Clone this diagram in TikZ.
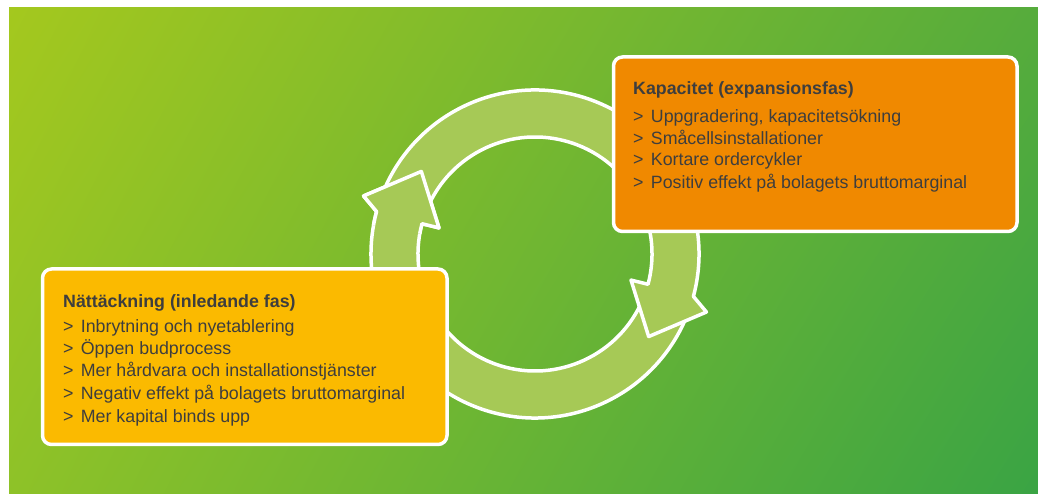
\documentclass[tikz,border=0pt]{standalone}
\usepackage{fontspec}
\setmainfont{Liberation Sans}
\usetikzlibrary{calc,shadings}

\definecolor{bgUL}{RGB}{164,200,30}
\definecolor{bgUR}{RGB}{86,172,60}
\definecolor{bgLL}{RGB}{142,194,40}
\definecolor{bgLR}{RGB}{58,164,68}
\definecolor{ringgreen}{RGB}{166,201,86}
\definecolor{kapOrange}{RGB}{240,137,0}
\definecolor{nattYellow}{RGB}{251,186,0}
\definecolor{textgray}{RGB}{62,62,62}

\newcommand{\listchev}{\makebox[17.7pt][l]{>}}

\begin{document}
\begin{tikzpicture}[x=1pt,y=1pt,
  ringarrow/.style={fill=ringgreen, draw=white, line width=3.5pt, line join=round},
  phasebox/.style={draw=white, line width=3.5pt, rounded corners=9pt, inner sep=0pt, anchor=south west},
  boxtitle/.style={anchor=base west, inner sep=0pt, text=textgray, font=\fontsize{17.8}{22}\selectfont\bfseries},
  boxitem/.style={anchor=base west, inner sep=0pt, text=textgray, font=\fontsize{17.8}{22}\selectfont}]

\useasboundingbox (0,0) rectangle (1038,494);

% gradient background panel
\shade[upper left=bgUL, upper right=bgUR, lower left=bgLL, lower right=bgLR]
  (9,0) rectangle (1038,486);

% circular cycle made of two curved arrows
\begin{scope}[shift={(535,240)}]
  % lower arrow: bottom arc, head pointing up on the left
  \path[ringarrow] (-20:164pt) arc[start angle=-20, end angle=-195, radius=164pt]
    -- (161.3:181pt) -- (144:140.5pt) -- (164.8:99.5pt) -- (165:117pt)
    arc[start angle=165, end angle=340, radius=117pt] -- cycle;
  % upper arrow: top arc, head pointing down on the right
  \path[ringarrow] (160:164pt) arc[start angle=160, end angle=-15, radius=164pt]
    -- (-18.7:181pt) -- (-36:140.5pt) -- (-15.2:99.5pt) -- (-15:117pt)
    arc[start angle=-15, end angle=160, radius=117pt] -- cycle;
  % left head again, on top of the upper arrow's tail
  \fill[ringgreen] (170:164pt) arc[start angle=170, end angle=165, radius=164pt]
    -- (161.3:181pt) -- (144:140.5pt) -- (164.8:99.5pt) -- (165:117pt)
    arc[start angle=165, end angle=170, radius=117pt] -- cycle;
  \draw[white, line width=3.5pt, line join=round] (170:164pt) arc[start angle=170, end angle=165, radius=164pt]
    -- (161.3:181pt) -- (144:140.5pt) -- (164.8:99.5pt) -- (165:117pt)
    arc[start angle=165, end angle=170, radius=117pt];
\end{scope}

% phase boxes
\node[phasebox, fill=kapOrange, minimum width=403.5pt, minimum height=174.5pt] (kap) at (611.75,260.75) {};
\node[phasebox, fill=nattYellow, minimum width=404.5pt, minimum height=175.5pt] (natt) at (40.75,47.75) {};

% expansion phase text
\node[boxtitle] (kapT) at (633,399) {Kapacitet (expansionsfas)};
\node[boxitem] (kap1) at (633,371.3) {\listchev Uppgradering, kapacitetsökning};
\node[boxitem] (kap2) at (633,349.7) {\listchev Småcellsinstallationer};
\node[boxitem] (kap3) at (633,328) {\listchev Kortare ordercykler};
\node[boxitem] (kap4) at (633,305.7) {\listchev Positiv effekt på bolagets bruttomarginal};

% initial phase text
\node[boxtitle] (nattT) at (63,186) {Nättäckning (inledande fas)};
\node[boxitem] (natt1) at (63,161) {\listchev Inbrytning och nyetablering};
\node[boxitem] (natt2) at (63,139) {\listchev Öppen budprocess};
\node[boxitem] (natt3) at (63,117) {\listchev Mer hårdvara och installationstjänster};
\node[boxitem] (natt4) at (63,94) {\listchev Negativ effekt på bolagets bruttomarginal};
\node[boxitem] (natt5) at (63,71) {\listchev Mer kapital binds upp};

\end{tikzpicture}
\end{document}
